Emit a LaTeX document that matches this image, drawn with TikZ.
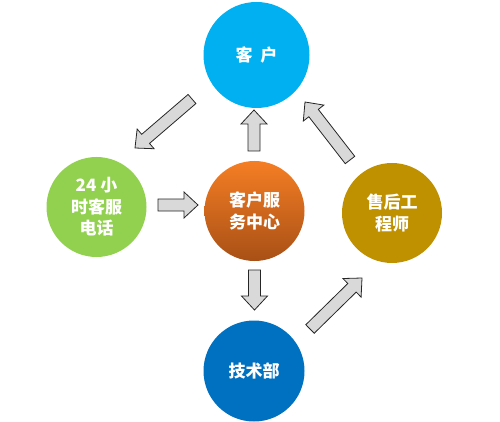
\documentclass[tikz,border=0pt]{standalone}
\usepackage{fontspec}
\newfontfamily\cjk{Noto Sans CJK SC}
\usetikzlibrary{calc}
\definecolor{cblue}{RGB}{0,176,240}
\definecolor{cgreen}{RGB}{146,208,80}
\definecolor{cgold}{RGB}{191,144,0}
\definecolor{cdblue}{RGB}{0,112,192}
\definecolor{corgtop}{RGB}{245,126,36}
\definecolor{corgbot}{RGB}{168,80,22}
\definecolor{cgray}{RGB}{217,217,217}
\tikzset{
  ball/.style={circle, minimum size=#1, inner sep=0pt, draw=none, text=white,
    font=\cjk\bfseries\fontsize{17}{21.5}\selectfont, align=center},
  blockarrow/.style={draw=black!85, fill=cgray, line width=0.8pt, line join=miter}
}
\newcommand\barrow[2]{%
  \coordinate (bS) at (#1); \coordinate (bE) at (#2);
  \coordinate (bB) at ($(bE)!14pt!(bS)$);
  \draw[blockarrow] ($(bS)!6pt!90:(bE)$) -- ($(bB)!6pt!-90:(bS)$) -- ($(bB)!13pt!-90:(bS)$) -- (bE)
     -- ($(bB)!13pt!90:(bS)$) -- ($(bB)!6pt!90:(bS)$) -- ($(bS)!6pt!-90:(bE)$) -- cycle;}
\begin{document}
\begin{tikzpicture}[x=1pt,y=-1pt]
\useasboundingbox (0,0) rectangle (500,422);
\node[ball=106pt, fill=cblue] (kehu) at (256.5,55) {客\hspace{0.45em}户};
\node[ball=100pt, fill=cgreen] (dianhua) at (96.5,207) {24 小\\时客服\\电话};
\node[ball=100pt, top color=corgtop, bottom color=corgbot] (zhongxin) at (254.5,211) {客户服\\务中心};
\node[ball=100pt, fill=cgold] (shouhou) at (392,213) {售后工\\程师};
\node[ball=101pt, fill=cdblue] (jishu) at (254,371) {技术部};
% arrow end points
\coordinate (a1s) at (192,99);  \coordinate (a1e) at (135,148);
\coordinate (a2s) at (254,151); \coordinate (a2e) at (254,110);
\coordinate (a3s) at (158,205); \coordinate (a3e) at (198,205);
\coordinate (a4s) at (350,160); \coordinate (a4e) at (305,102);
\coordinate (a5s) at (254.5,270); \coordinate (a5e) at (254.5,310);
\coordinate (a6s) at (310,329); \coordinate (a6e) at (362,278);
\barrow{a1s}{a1e}
\barrow{a2s}{a2e}
\barrow{a3s}{a3e}
\barrow{a4s}{a4e}
\barrow{a5s}{a5e}
\barrow{a6s}{a6e}
\end{tikzpicture}
\end{document}
